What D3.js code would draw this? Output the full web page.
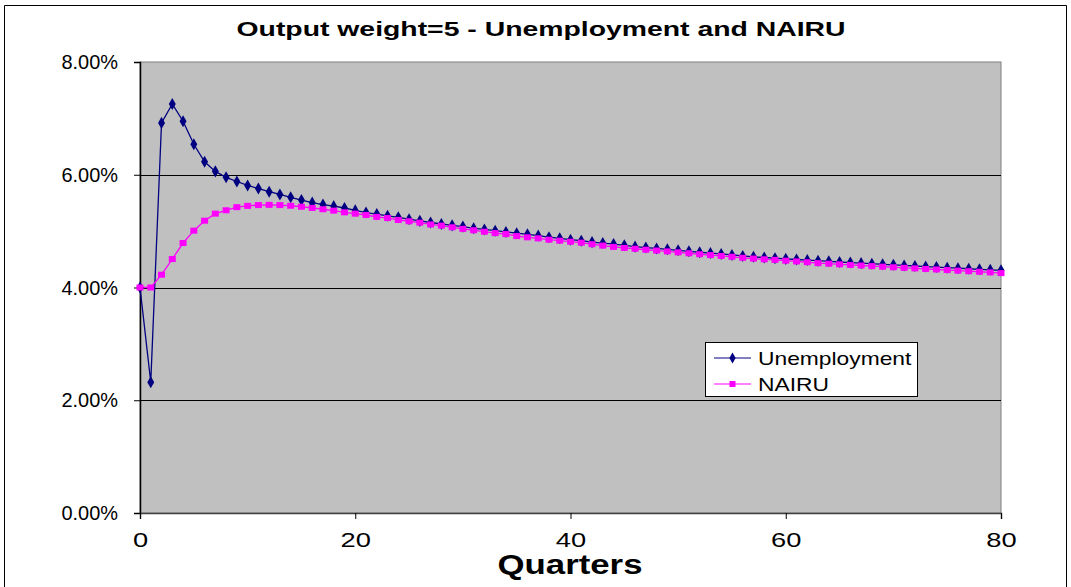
<!DOCTYPE html>
<html><head><meta charset="utf-8">
<script src="https://cdn.jsdelivr.net/npm/d3@7/dist/d3.min.js"></script>
<style>
html,body{margin:0;padding:0;background:#fff;}
svg{display:block;font-family:"Liberation Sans",Arial,sans-serif;}
</style></head>
<body>
<svg id="chart" width="1071" height="587"></svg>
<script>
const title = "Output weight=5 - Unemployment and NAIRU";
const xTitle = "Quarters";
const seriesNames = ["Unemployment", "NAIRU"];
const quarters = d3.range(0, 81);
const xTicks = [0, 20, 40, 60, 80];
const yTicks = [0, 0.02, 0.04, 0.06, 0.08];
const unemployment = [
 4.000, 2.320, 6.920, 7.255, 6.950, 6.540, 6.230, 6.060, 5.955, 5.880,
 5.810, 5.755, 5.700, 5.650, 5.600, 5.550, 5.505, 5.472, 5.443, 5.410,
 5.368, 5.330, 5.302, 5.272, 5.245, 5.212, 5.182, 5.153, 5.127, 5.102,
 5.080, 5.050, 5.030, 5.008, 4.985, 4.963, 4.943, 4.920, 4.892, 4.872,
 4.848, 4.830, 4.805, 4.788, 4.770, 4.748, 4.725, 4.708, 4.693, 4.677,
 4.660, 4.642, 4.625, 4.611, 4.595, 4.578, 4.560, 4.545, 4.532, 4.520,
 4.508, 4.497, 4.487, 4.475, 4.465, 4.452, 4.443, 4.432, 4.422, 4.411,
 4.402, 4.391, 4.381, 4.371, 4.362, 4.352, 4.342, 4.333, 4.323, 4.314,
 4.305
];
const nairu = [
 4.000, 4.000, 4.227, 4.505, 4.789, 5.008, 5.185, 5.310, 5.370, 5.425,
 5.448, 5.462, 5.466, 5.462, 5.450, 5.432, 5.412, 5.388, 5.363, 5.333,
 5.310, 5.286, 5.253, 5.232, 5.198, 5.175, 5.150, 5.118, 5.097, 5.068,
 5.040, 5.015, 4.990, 4.965, 4.948, 4.912, 4.890, 4.872, 4.848, 4.830,
 4.812, 4.795, 4.768, 4.743, 4.720, 4.702, 4.687, 4.670, 4.655, 4.640,
 4.624, 4.607, 4.590, 4.575, 4.560, 4.545, 4.527, 4.513, 4.500, 4.490,
 4.475, 4.462, 4.448, 4.432, 4.422, 4.411, 4.400, 4.390, 4.379, 4.369,
 4.359, 4.349, 4.339, 4.329, 4.319, 4.309, 4.299, 4.289, 4.279, 4.268,
 4.255
];
const colors = ["#000080", "#FF00FF"];

const svg = d3.select("#chart");
const plot = {left: 140, right: 1001, top: 62, bottom: 513};
const x = d3.scaleLinear().domain([0, 80]).range([plot.left, plot.right]);
const y = d3.scaleLinear().domain([0, 0.08]).range([plot.bottom, plot.top]);

// stretch helper: the reference text is drawn horizontally wide
function stretch(sel, factor) {
  sel.each(function() {
    const w = this.getComputedTextLength();
    d3.select(this).attr("textLength", w * factor).attr("lengthAdjust", "spacingAndGlyphs");
  });
}

// chart border
svg.append("path").attr("d", "M4.5,587 V5.5 H1066.5 V587")
  .attr("fill", "none").attr("stroke", "#000").attr("stroke-width", 1);

// plot area
svg.append("rect").attr("x", plot.left).attr("y", plot.top)
  .attr("width", plot.right - plot.left).attr("height", plot.bottom - plot.top)
  .attr("fill", "#C0C0C0").attr("stroke", "#808080").attr("stroke-width", 1);

// gridlines
svg.append("g").selectAll("line").data(yTicks.filter(d => d > 0 && d < 0.08)).join("line")
  .attr("x1", plot.left).attr("x2", plot.right)
  .attr("y1", d => Math.round(y(d)) + 0.5).attr("y2", d => Math.round(y(d)) + 0.5)
  .attr("stroke", "#000").attr("stroke-width", 1);

// axes
const yAxis = d3.axisLeft(y).tickValues(yTicks).tickFormat(d3.format(".2%")).tickSize(6).tickPadding(16);
const gy = svg.append("g").attr("transform", `translate(${plot.left},0)`).call(yAxis);
gy.selectAll("text").attr("font-size", 21).attr("fill", "#000");
stretch(gy.selectAll("text"), 0.95);
gy.select(".domain").attr("stroke", "#000");
const xAxis = d3.axisBottom(x).tickValues(xTicks).tickFormat(d3.format("d")).tickSize(6).tickPadding(13);
const gx = svg.append("g").attr("transform", `translate(0,${plot.bottom})`).call(xAxis);
gx.selectAll("text").attr("font-size", 21).attr("fill", "#000");
stretch(gx.selectAll("text"), 1.3);
gx.select(".domain").attr("stroke", "#404040");
svg.selectAll(".domain").attr("stroke-width", 1.5);

// series
const data = [unemployment, nairu];
const line = d3.line().x((d, i) => x(quarters[i])).y(d => y(d / 100));
data.forEach((vals, si) => {
  svg.append("path").datum(vals).attr("d", line)
    .attr("fill", "none").attr("stroke", colors[si]).attr("stroke-width", 1.3);
});
data.forEach((vals, si) => {
  const g = svg.append("g");
  if (si === 0) {
    g.selectAll("path").data(vals).join("path")
      .attr("d", d3.symbol(d3.symbolDiamond, 42)())
      .attr("transform", (d, i) => `translate(${x(quarters[i])},${y(d / 100)})`)
      .attr("fill", colors[si]);
  } else {
    g.selectAll("rect").data(vals).join("rect")
      .attr("x", (d, i) => x(quarters[i]) - 3.5).attr("y", d => y(d / 100) - 3)
      .attr("width", 7).attr("height", 6).attr("fill", colors[si]);
  }
});

// title
const t = svg.append("text").attr("x", 541).attr("y", 36).attr("text-anchor", "middle")
  .attr("font-size", 21).attr("font-weight", "bold").text(title);
t.attr("textLength", 609).attr("lengthAdjust", "spacingAndGlyphs");
svg.append("text").attr("x", 570).attr("y", 574).attr("text-anchor", "middle")
  .attr("font-size", 28).attr("font-weight", "bold").text(xTitle)
  .attr("textLength", 145).attr("lengthAdjust", "spacingAndGlyphs");

// legend
const lg = svg.append("g");
lg.append("rect").attr("x", 705.5).attr("y", 342.5).attr("width", 212).attr("height", 54)
  .attr("fill", "#fff").attr("stroke", "#000").attr("stroke-width", 1);
seriesNames.forEach((name, i) => {
  const ly = 358 + i * 26;
  lg.append("line").attr("x1", 714).attr("x2", 751).attr("y1", ly).attr("y2", ly)
    .attr("stroke", colors[i]).attr("stroke-width", 1);
  if (i === 0) {
    lg.append("path").attr("d", d3.symbol(d3.symbolDiamond, 34)())
      .attr("transform", `translate(732.5,${ly})`).attr("fill", colors[i]);
  } else {
    lg.append("rect").attr("x", 729.5).attr("y", ly - 3).attr("width", 6).attr("height", 6).attr("fill", colors[i]);
  }
  const tx = lg.append("text").attr("x", 758).attr("y", ly + 7).attr("font-size", 19).text(name);
  stretch(tx, 1.2);
});
</script>
</body></html>
